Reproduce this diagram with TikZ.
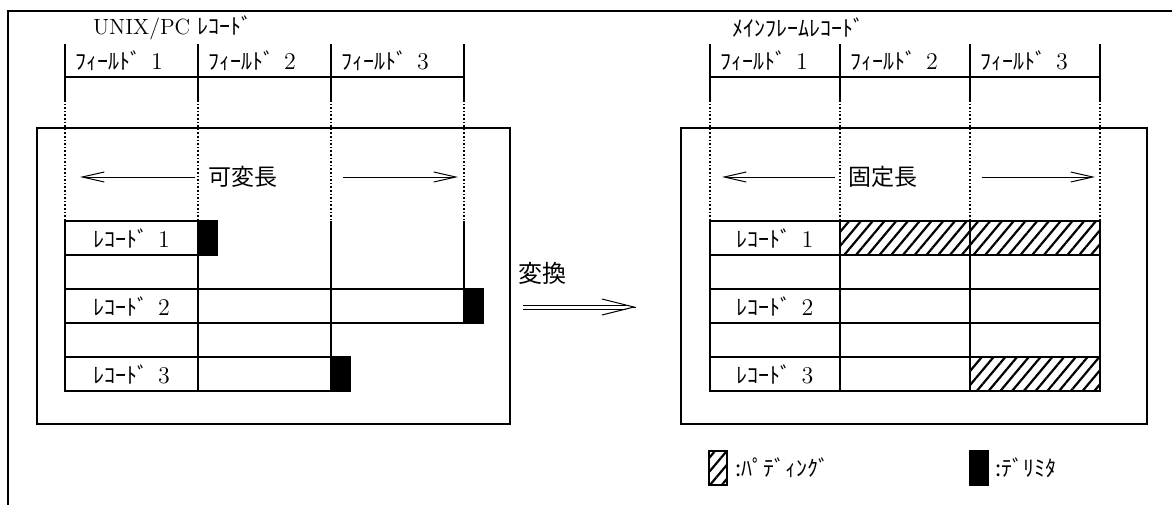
\documentclass[tikz,border=0pt]{standalone}
\usepackage{fontspec}
\usepackage{tikz}
\usetikzlibrary{arrows.meta,patterns.meta}
\newfontfamily\jp{Noto Sans CJK JP}
\newcommand{\fld}[1]{{\jp ﾌｨｰﾙﾄﾞ}\hspace{5pt}{\fontsize{12}{13}\selectfont #1}}
\newcommand{\rec}[1]{{\jp ﾚｺｰﾄﾞ}\hspace{5pt}{\fontsize{12}{13}\selectfont #1}}

\begin{document}
\begin{tikzpicture}[x=0.5pt,y=-0.5pt,
	every node/.style={font=\fontsize{11}{13}\selectfont},
	cellL/.style={draw, rectangle, line width=1pt, inner sep=0pt, minimum width=66.5pt, minimum height=17pt},
	cellR/.style={draw, rectangle, line width=1pt, inner sep=0pt, minimum width=65pt, minimum height=17pt},
	delim/.style={draw, fill=black, rectangle, line width=1pt, inner sep=0pt, minimum width=9pt, minimum height=17pt},
	padcell/.style={pattern={Lines[angle=50,distance=4.5pt,line width=1.1pt]}},
	frameline/.style={line width=1pt},
	dotline/.style={densely dotted, line width=0.8pt},
	lenarrow/.style={line width=0.5pt, -{Straight Barb[length=11pt,width=5pt]}},
	convline/.style={double, double distance=1.5pt, line width=0.5pt, shorten >=5pt},
	convtip/.style={line width=0.5pt, -{Straight Barb[length=16pt,width=8pt]}}]
			\useasboundingbox (0,0) rectangle (1172,505);
			% outer frame
			\draw[frameline] (1172,11) -- (8,11) -- (8,505);
			% record areas
			\draw[frameline] (37,128) rectangle (510,424);
			\draw[frameline] (681,128) rectangle (1147,424);
			% field columns
			\foreach \x in {65,198,331,464,710,840,970,1100} {
				\draw[frameline] (\x,44) -- (\x,100);
				\draw[dotline] (\x,100) -- (\x,221);
			}
			\draw[frameline] (65,77) -- (464,77);
			\draw[frameline] (710,77) -- (1100,77);
			\foreach \x in {65,198,331} \draw[frameline] (\x,221) -- (\x,391);
			\draw[frameline] (464,221) -- (464,323);
			\foreach \x in {710,840,970,1100} \draw[frameline] (\x,221) -- (\x,391);
			% titles
			\node[anchor=west] (unix) at (86,28) {UNIX/PC {\jp ﾚｺｰﾄﾞ}};
			\node[anchor=west] (main) at (725,28) {{\jp ﾒｲﾝﾌﾚｰﾑﾚｺｰﾄﾞ}};
			\node[anchor=west] (uf1) at (68,61) {\fld{1}};
			\node[anchor=west] (uf2) at (201,61) {\fld{2}};
			\node[anchor=west] (uf3) at (334,61) {\fld{3}};
			\node[anchor=west] (mf1) at (713,61) {\fld{1}};
			\node[anchor=west] (mf2) at (843,61) {\fld{2}};
			\node[anchor=west] (mf3) at (973,61) {\fld{3}};
			% lengths
			\node[font=\jp\fontsize{11.5}{14}\selectfont] (var) at (243,177) {可変長};
			\node[font=\jp\fontsize{11.5}{14}\selectfont] (fix) at (883,177) {固定長};
			\coordinate (varL0) at (195,177);
			\coordinate (varL) at (80,177);
			\coordinate (varR0) at (343,177);
			\coordinate (varR) at (458,177);
			\coordinate (fixL0) at (835,177);
			\coordinate (fixL) at (722,177);
			\coordinate (fixR0) at (982,177);
			\coordinate (fixR) at (1095,177);
			% UNIX/PC records
			\node[cellL] (u11) at (131.5,238) {\rec{1}};
			\node[delim] (ud1) at (207.5,238) {};
			\node[cellL] (u21) at (131.5,306) {\rec{2}};
			\node[cellL] (u22) at (264.5,306) {};
			\node[cellL] (u23) at (397.5,306) {};
			\node[delim] (ud2) at (473.5,306) {};
			\node[cellL] (u31) at (131.5,374) {\rec{3}};
			\node[cellL] (u32) at (264.5,374) {};
			\node[delim] (ud3) at (340.5,374) {};
			% mainframe records
			\node[cellR] (m11) at (775,238) {\rec{1}};
			\node[cellR, padcell] (m12) at (905,238) {};
			\node[cellR, padcell] (m13) at (1035,238) {};
			\node[cellR] (m21) at (775,306) {\rec{2}};
			\node[cellR] (m22) at (905,306) {};
			\node[cellR] (m23) at (1035,306) {};
			\node[cellR] (m31) at (775,374) {\rec{3}};
			\node[cellR] (m32) at (905,374) {};
			\node[cellR, padcell] (m33) at (1035,374) {};
			% conversion
			\node[font=\jp\fontsize{12}{14}\selectfont] (conv) at (542,273) {変換};
			\coordinate (cs) at (523,307);
			\coordinate (ce) at (636,307);
			\coordinate (ce0) at (635.8,307);
			% legend
			\node[draw, line width=1pt, padcell, inner sep=0pt, minimum width=9pt, minimum height=17pt] (lgp) at (718,468) {};
			\node[anchor=west] (lgpt) at (728,468) {{\jp :ﾊﾟﾃﾞｨﾝｸﾞ}};
			\node[delim] (lgd) at (978.5,468) {};
			\node[anchor=west] (lgdt) at (988,468) {{\jp :ﾃﾞﾘﾐﾀ}};
			\draw 
			(varL0) edge[lenarrow] (varL)
			(varR0) edge[lenarrow] (varR)
			(fixL0) edge[lenarrow] (fixL)
			(fixR0) edge[lenarrow] (fixR)
			;
			\draw[convline] (cs) -- (ce);
			\draw[convtip] (ce0) -- (ce);
\end{tikzpicture}
\end{document}
